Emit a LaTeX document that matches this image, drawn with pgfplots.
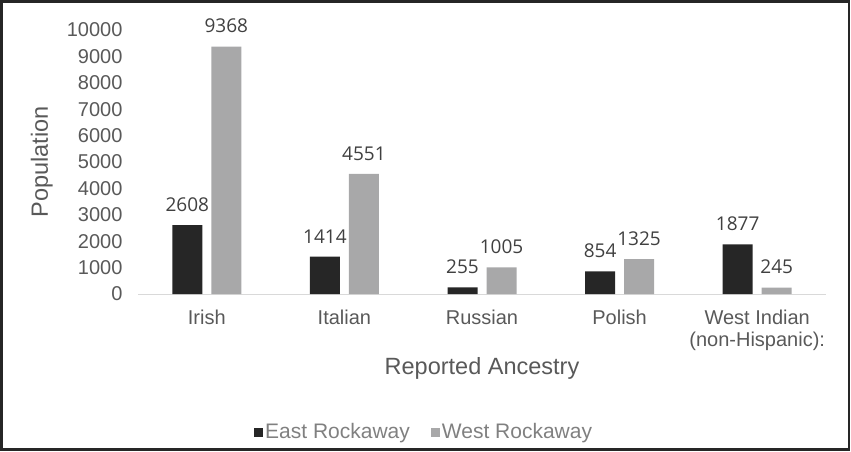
\documentclass[border=0pt]{standalone}
\usepackage{fontspec}
\setmainfont{Liberation Sans}
\newfontfamily\datafont{Open Sans}
\usepackage{pgfplots}
\pgfplotsset{compat=1.18}
\definecolor{eastc}{HTML}{262626}
\definecolor{westc}{HTML}{A8A8A9}
\definecolor{tickc}{HTML}{595959}
\definecolor{datac}{HTML}{404040}
\definecolor{legc}{HTML}{808080}
\begin{document}
\begin{tikzpicture}
\useasboundingbox (0,0) rectangle (851pt,451pt);
\draw[line width=2.2pt, color=black!85] (1.5pt,1.5pt) rectangle (849pt,449.5pt);
\begin{axis}[
  at={(138pt,157pt)}, anchor=south west,
  scale only axis, width=688pt, height=264pt,
  ymin=0, ymax=10000, xmin=-0.5, xmax=4.5,
  ytick={0,1000,...,10000},
  scaled y ticks=false,
  xtick={0,1,2,3,4},
  xticklabels={Irish, Italian, Russian, Polish, {West Indian\\(non-Hispanic):}},
  axis x line*=bottom, axis y line*=left,
  x axis line style={draw=black!15, line width=1pt, -},
  y axis line style={draw=none},
  tick style={draw=none},
  ybar=9pt, bar width=30pt,
  /pgf/number format/assume math mode=true,
  /pgf/number format/1000 sep={},
  /pgf/number format/fixed,
  ticklabel style={font=\fontsize{20}{22.5}\selectfont, color=tickc},
  yticklabel style={xshift=-12pt},
  xticklabel style={align=center, yshift=-8pt},
  ylabel={Population}, xlabel={Reported Ancestry},
  label style={font=\fontsize{23.5}{26}\selectfont, color=tickc},
  ylabel style={at={(axis description cs:-0.14,0.5)}, anchor=center},
  xlabel style={at={(axis description cs:0.5,-0.306)}, anchor=base},
  nodes near coords,
  nodes near coords style={font=\datafont\fontsize{19}{22}\selectfont, color=datac, yshift=10pt},
  legend columns=2,
  legend image code/.code={\fill[#1,draw=none] (0pt,-4.5pt) rectangle (9pt,4.5pt);},
  legend style={draw=none, fill=none, inner sep=0pt,
    at={(axis description cs:0.1686,-0.5227)}, anchor=west,
    font=\fontsize{21}{24}\selectfont, text=legc,
    nodes={inner sep=2pt},
    /tikz/every even column/.append style={column sep=19pt}},
]
\addplot[fill=eastc, draw=none] coordinates {(0,2608) (1,1414) (2,255) (3,854) (4,1877)};
\addplot[fill=westc, draw=none] coordinates {(0,9368) (1,4551) (2,1005) (3,1325) (4,245)};
\legend{East Rockaway, West Rockaway}
\end{axis}
\end{tikzpicture}
\end{document}
